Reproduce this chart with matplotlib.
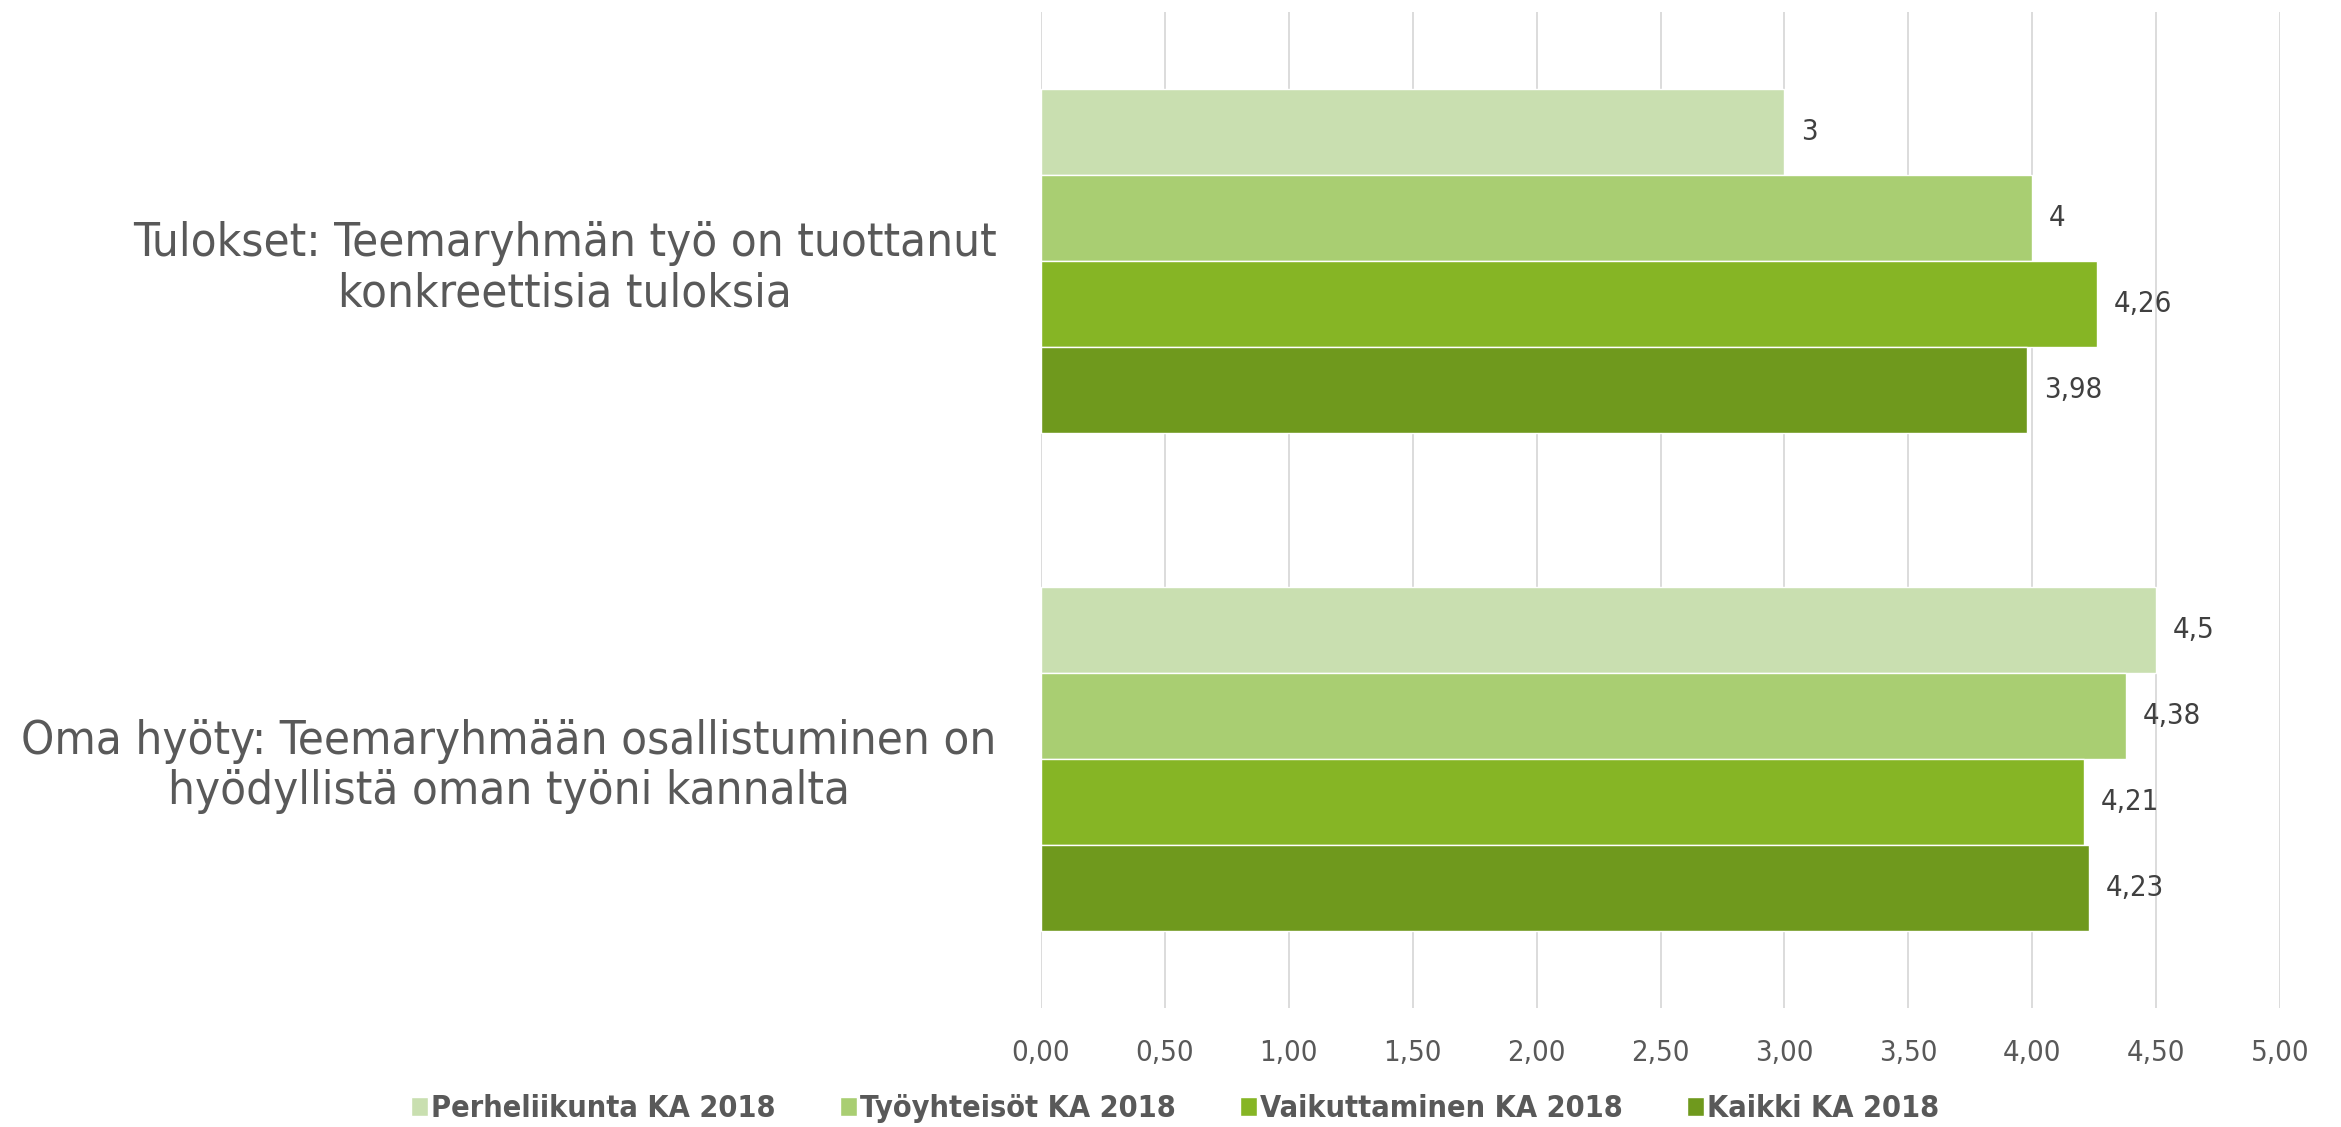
import matplotlib
matplotlib.use("Agg")
import matplotlib.pyplot as plt
import numpy as np

categories = ["Tulokset: Teemaryhmän työ on tuottanut\nkonkreettisia tuloksia",
              "Oma hyöty: Teemaryhmään osallistuminen on\nhyödyllistä oman työni kannalta"]
series_names = ["Perheliikunta KA 2018", "Työyhteisöt KA 2018",
                "Vaikuttaminen KA 2018", "Kaikki KA 2018"]
values = [
    [3.00, 4.50],
    [4.00, 4.38],
    [4.26, 4.21],
    [3.98, 4.23],
]
labels = [
    ["3", "4,5"],
    ["4", "4,38"],
    ["4,26", "4,21"],
    ["3,98", "4,23"],
]
colors = ["#C9DFB0", "#A9CE72", "#86B525", "#6F991D"]
xticks = [0, 0.5, 1.0, 1.5, 2.0, 2.5, 3.0, 3.5, 4.0, 4.5, 5.0]
xticklabels = ["0,00", "0,50", "1,00", "1,50", "2,00", "2,50", "3,00", "3,50", "4,00", "4,50", "5,00"]

plt.rcParams['font.family'] = ['DejaVu Sans']
plt.rcParams['font.stretch'] = 'condensed'

fig = plt.figure(figsize=(23.41, 11.27), dpi=100)
ax = fig.add_axes([1041/2341, 1 - 1008/1127, (2280 - 1041)/2341, (1008 - 12)/1127])

n = len(series_names)
h = 0.1725
y = np.arange(len(categories))
for i, (name, vals, labs, c) in enumerate(zip(series_names, values, labels, colors)):
    pos = y - 1.5 * h + i * h
    bars = ax.barh(pos, vals, height=h, color=c, edgecolor="white", linewidth=1, label=name, zorder=3)
    for b, lab in zip(bars, labs):
        ax.annotate(lab, (b.get_width(), b.get_y() + b.get_height() / 2),
                    xytext=(12, 0), textcoords="offset points",
                    ha="left", va="center", fontsize=21, color="#404040")

ax.set_ylim(1.5, -0.5)
ax.set_xlim(0, 5)
ax.set_xticks(xticks)
ax.set_xticklabels(xticklabels, fontsize=21, color="#595959")
ax.set_yticks(y)
ax.set_yticklabels(categories, fontsize=34, color="#595959", multialignment="center",
                   linespacing=1.15)
ax.tick_params(axis="both", length=0)
ax.tick_params(axis="y", pad=32)
ax.tick_params(axis="x", pad=22)
for s in ax.spines.values():
    s.set_visible(False)
ax.grid(axis="x", color="#D9D9D9", linewidth=1.3, zorder=0)
ax.set_axisbelow(True)

leg = fig.legend(loc="center", bbox_to_anchor=(0.502, 0.016), ncol=4, frameon=False,
                 prop={"size": 22, "weight": "bold"}, handlelength=0.55, handleheight=0.55,
                 handletextpad=0.1, columnspacing=2.1, borderpad=0)
for t in leg.get_texts():
    t.set_color("#595959")

fig.savefig("out.png", dpi=100)
